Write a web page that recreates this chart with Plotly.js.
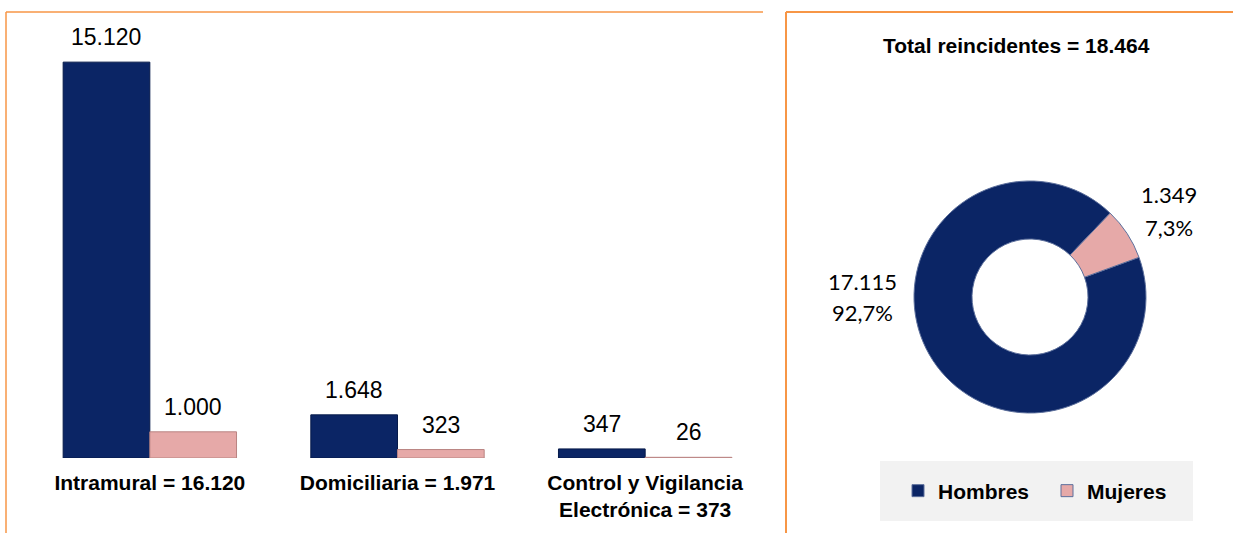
<!DOCTYPE html>
<html>
<head>
<meta charset="utf-8">
<script src="https://cdn.plot.ly/plotly-3.0.1.min.js"></script>
<style>html,body{margin:0;padding:0;background:#fff;overflow:hidden;}#chart{width:1233px;height:533px;}</style>
</head>
<body>
<div id="chart"></div>
<script>
// ---- data ----
const categories = ['Intramural', 'Domiciliaria', 'Control y Vigilancia Electrónica'];
const hombres = [15120, 1648, 347];
const mujeres = [1000, 323, 26];
const tickLabels = ['<b>Intramural = 16.120</b>', '<b>Domiciliaria = 1.971</b>', '<b>Control y Vigilancia<br>Electrónica = 373</b>'];
const donutLabels = ['Hombres', 'Mujeres'];
const donutValues = [17115, 1349];
const donutTitle = 'Total reincidentes = 18.464';

// ---- styles ----
const W = 1233, H = 533;
const navy = '#0b2565', pink = '#e6a9a8';
const orange = '#f79646';
const px = v => v / W;
const py = v => (H - v) / H;
const fmtInt = v => v.toLocaleString('de-DE');

const barHombres = {
  type: 'bar', x: categories, y: hombres, name: 'Hombres', showlegend: false,
  marker: {color: navy, line: {color: '#061a4a', width: 1}},
  xaxis: 'x', yaxis: 'y', hoverinfo: 'y'
};
const barMujeres = {
  type: 'bar', x: categories, y: mujeres, name: 'Mujeres', showlegend: false,
  marker: {color: pink, line: {color: '#b98482', width: 1}},
  xaxis: 'x', yaxis: 'y', hoverinfo: 'y'
};
const donut = {
  type: 'pie', labels: donutLabels, values: donutValues, hole: 0.5,
  sort: false, direction: 'clockwise', rotation: 70,
  marker: {colors: [navy, pink], line: {color: '#5c6f9c', width: 1}},
  textinfo: 'none',
  domain: {x: [px(914), px(1146)], y: [py(413), py(181)]},
  showlegend: true
};

const annotations = [];
const valFont = {family: 'Arial, Liberation Sans, sans-serif', size: 23, color: '#000'};
const off = 0.175;
hombres.forEach((v, i) => annotations.push({
  x: i - off, y: v, xref: 'x', yref: 'y', text: fmtInt(v),
  showarrow: false, yanchor: 'middle', yshift: 25, font: valFont
}));
mujeres.forEach((v, i) => annotations.push({
  x: i + off, y: v, xref: 'x', yref: 'y', text: fmtInt(v),
  showarrow: false, yanchor: 'middle', yshift: 25, font: valFont
}));
annotations.push({
  x: px(1016), y: py(46), xref: 'paper', yref: 'paper', text: '<b>' + donutTitle + '</b>',
  showarrow: false, xanchor: 'center', yanchor: 'middle',
  font: {family: 'Arial, Liberation Sans, sans-serif', size: 21, color: '#000'}
});
// donut labels (value and share)
const total = donutValues.reduce((a, b) => a + b, 0);
const donutLabelPos = [
  {x: 862, y1: 281, y2: 312},   // Hombres
  {x: 1169, y1: 194, y2: 228}   // Mujeres
];
const donutFont = {family: 'Lato, Carlito, sans-serif', size: 22, color: '#000'};
donutValues.forEach((v, i) => {
  const pct = (v / total * 100).toFixed(1).replace('.', ',') + '%';
  const p = donutLabelPos[i];
  annotations.push({x: px(p.x), y: py(p.y1), xref: 'paper', yref: 'paper', text: fmtInt(v),
    showarrow: false, xanchor: 'center', yanchor: 'middle', font: donutFont});
  annotations.push({x: px(p.x), y: py(p.y2), xref: 'paper', yref: 'paper', text: pct,
    showarrow: false, xanchor: 'center', yanchor: 'middle', font: donutFont});
});

const shapes = [
  {type: 'line', xref: 'paper', yref: 'paper', x0: px(6), x1: px(763), y0: py(12), y1: py(12), line: {color: orange, width: 1.5}},
  {type: 'line', xref: 'paper', yref: 'paper', x0: px(6), x1: px(6), y0: py(12), y1: py(533), line: {color: orange, width: 1.5}},
  {type: 'line', xref: 'paper', yref: 'paper', x0: px(786), x1: px(1233), y0: py(12), y1: py(12), line: {color: orange, width: 2}},
  {type: 'line', xref: 'paper', yref: 'paper', x0: px(786), x1: px(786), y0: py(12), y1: py(533), line: {color: orange, width: 2}},
  {type: 'rect', xref: 'paper', yref: 'paper', x0: px(880), x1: px(1193), y0: py(521), y1: py(461), fillcolor: '#f2f2f2', line: {width: 0}, layer: 'below'}
];

const layout = {
  width: W, height: H,
  margin: {l: 0, r: 0, t: 0, b: 0, autoexpand: false},
  paper_bgcolor: '#ffffff', plot_bgcolor: 'rgba(0,0,0,0)',
  separators: ',.',
  barmode: 'group', bargap: 0.3, bargroupgap: 0,
  font: {family: 'Arial, Liberation Sans, sans-serif', color: '#000'},
  xaxis: {
    domain: [px(26), px(769)], type: 'category',
    tickvals: categories, ticktext: tickLabels,
    tickfont: {family: 'Arial, Liberation Sans, sans-serif', size: 21, color: '#000'},
    showgrid: false, zeroline: false, showline: false, ticks: '', ticklabelstandoff: 10
  },
  yaxis: {
    domain: [py(458), py(26)], range: [0, 16500],
    visible: false, showgrid: false, zeroline: false
  },
  legend: {
    orientation: 'h', x: px(898), y: py(491), xanchor: 'left', yanchor: 'middle',
    bgcolor: 'rgba(0,0,0,0)', entrywidth: 104, entrywidthmode: 'pixels',
    font: {family: 'Arial, Liberation Sans, sans-serif', size: 21, color: '#000', weight: 'bold'}
  },
  annotations: annotations,
  shapes: shapes,
  showlegend: true
};

Plotly.newPlot('chart', [barHombres, barMujeres, donut], layout, {displayModeBar: false, staticPlot: true});
</script>
</body>
</html>
